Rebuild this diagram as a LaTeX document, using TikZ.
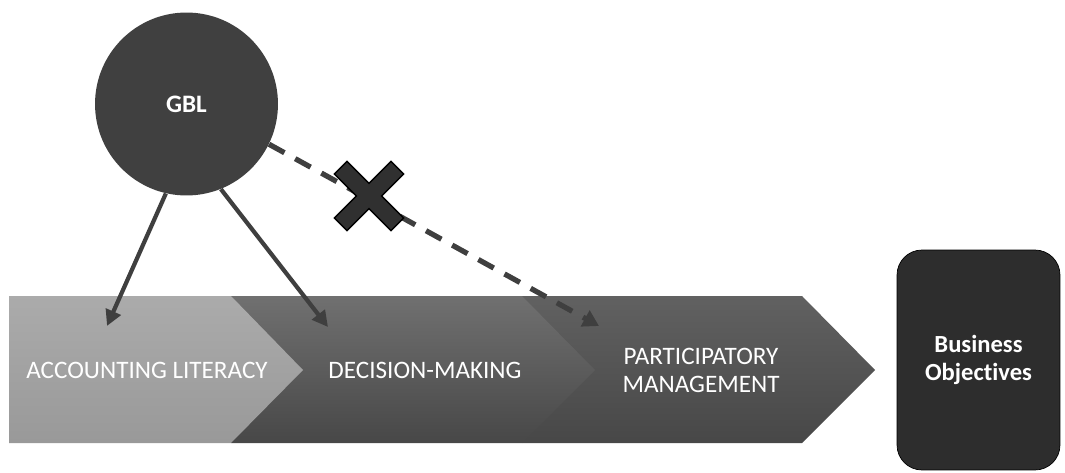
\documentclass[tikz,border=0pt]{standalone}
\usepackage{fontspec}
\setmainfont{Carlito}[Ligatures=NoCommon]
\usepackage{tikz}
\usetikzlibrary{arrows.meta,positioning}
\definecolor{hubgray}{HTML}{404040}
\definecolor{goalgray}{HTML}{2D2D2D}
\definecolor{linkgray}{HTML}{3F3F3F}
\definecolor{crossgray}{HTML}{303030}

\begin{document}
\begin{tikzpicture}[x=0.02cm,y=-0.02cm,font=\fontsize{14.3}{16}\selectfont,
 hub/.style={circle,fill=hubgray,text=white,minimum size=3.66cm,inner sep=0pt,font=\fontsize{14.3}{16}\selectfont\bfseries},
 goal/.style={draw=black,fill=goalgray,rounded corners=0.5cm,text=white,align=center,minimum width=3.26cm,minimum height=4.4cm,font=\fontsize{14}{16}\selectfont\bfseries},
 stagetext/.style={text=white,align=center,inner sep=0pt},
 link/.style={draw=linkgray,line width=2.4pt,-{Triangle[length=9pt,width=9pt]}},
 blocked/.style={draw=linkgray,line width=3pt,dash pattern=on 10pt off 7pt,-{Triangle[length=9pt,width=10pt]}}]
\useasboundingbox (0,0) rectangle (1065,473);
% stages, drawn back to front
\path[top color=black!62,bottom color=black!72] (522,296)--(802,296)--(875,370)--(802,443)--(522,443)--cycle;
\path[top color=black!56,bottom color=black!72] (231,296)--(522,296)--(595,370)--(522,443)--(231,443)--cycle;
\path[top color=black!33,bottom color=black!40] (9,296)--(231,296)--(303,370)--(231,443)--(9,443)--cycle;
\node[stagetext] (lit) at (147,370) {ACCOUNTING LITERACY};
\node[stagetext] (dec) at (425,370) {DECISION-MAKING};
\node[stagetext] (part) at (701,370) {PARTICIPATORY\\MANAGEMENT};
\node[goal] (biz) at (978.5,360) {Business\\Objectives};
\node[hub] (gbl) at (186.5,104) {GBL};
\coordinate (litpt) at (107,326);
\coordinate (decpt) at (328,327);
\coordinate (partpt) at (599,326);
\draw[link] (gbl.257)--(litpt);
\draw[link] (gbl.292)--(decpt);
\draw[blocked] (gbl.334)--(partpt);
% cross on the dashed link
\begin{scope}[shift={(369,196)},rotate=45]
\filldraw[fill=crossgray,draw=black,line width=0.8pt]
 (9,9)--(40,9)--(40,-9)--(9,-9)--(9,-40)--(-9,-40)--(-9,-9)--(-40,-9)--(-40,9)--(-9,9)--(-9,40)--(9,40)--cycle;
\end{scope}
\end{tikzpicture}
\end{document}
